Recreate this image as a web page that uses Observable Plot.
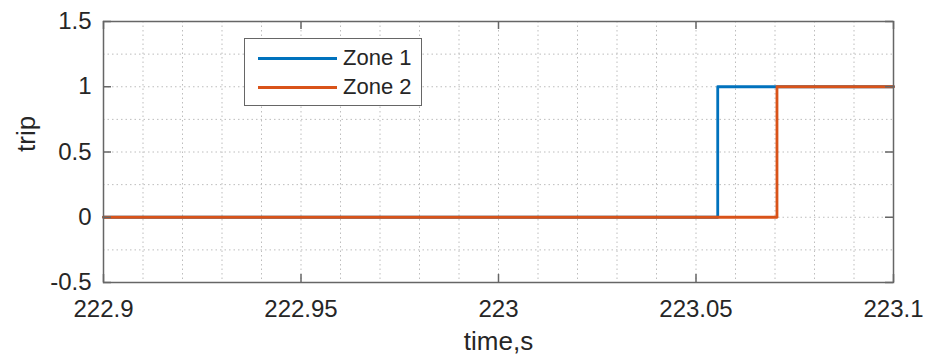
<!DOCTYPE html>
<html><head><meta charset="utf-8">
<script src="https://cdn.jsdelivr.net/npm/d3@7"></script>
<script src="https://cdn.jsdelivr.net/npm/@observablehq/plot@0.6"></script>
<style>
body{margin:0;background:#fff;}
#wrap{position:relative;width:925px;height:355px;font-family:"Liberation Sans",Arial,sans-serif;}
#legend{position:absolute;left:244px;top:38px;width:176px;height:66px;border:1.5px solid #666;background:#fff;}
.item{position:absolute;left:13px;height:26px;display:flex;align-items:center;font-size:22px;color:#262626;}
.swatch{width:79px;height:0;border-top:3px solid;margin-right:6px;}
</style>
</head><body><div id="wrap"></div>
<script>
const zone1Time = [222.9, 223.0555, 223.1];
const zone1Trip = [0, 1, 1];
const zone2Time = [222.9, 223.0705, 223.1];
const zone2Trip = [0, 1, 1];
const xTicks = [222.9, 222.95, 223, 223.05, 223.1];
const yTicks = [-0.5, 0, 0.5, 1, 1.5];
const seriesNames = ["Zone 1", "Zone 2"];
const seriesColors = ["#0072BD", "#D95319"];
const xLabel = "time,s";
const yLabel = "trip";

const W = 925, H = 355, mL = 103, mR = 32, mT = 21, mB = 73;
const iw = W - mL - mR, ih = H - mT - mB, tk = 8;
const xMinor = d3.range(0, 21).map(i => +(222.9 + i * 0.01).toFixed(2));
const yMinor = d3.range(0, 9).map(i => -0.5 + i * 0.25);

const z1 = zone1Time.map((t, i) => ({t, v: zone1Trip[i]}));
const z2 = zone2Time.map((t, i) => ({t, v: zone2Trip[i]}));

const chart = Plot.plot({
  width: W, height: H,
  marginLeft: mL, marginRight: mR, marginTop: mT, marginBottom: mB,
  x: {domain: [222.9, 223.1]},
  y: {domain: [-0.5, 1.5]},
  style: {fontFamily: '"Liberation Sans", Arial, sans-serif', fontSize: "24px", color: "#262626", background: "#fff"},
  marks: [
    Plot.ruleX(xMinor, {x: d => d, stroke: "#bdbdbd", strokeDasharray: "1.5,3", strokeWidth: 1}),
    Plot.ruleY(yMinor, {y: d => d, stroke: "#bdbdbd", strokeDasharray: "1.5,3", strokeWidth: 1}),
    Plot.line(z1, {x: "t", y: "v", stroke: seriesColors[0], strokeWidth: 2.8, curve: "step-after"}),
    Plot.line(z2, {x: "t", y: "v", stroke: seriesColors[1], strokeWidth: 2.8, curve: "step-after"}),
    Plot.tickX(xTicks, {x: d => d, insetTop: ih - tk, stroke: "#666", strokeWidth: 1.5}),
    Plot.tickX(xTicks, {x: d => d, insetBottom: ih - tk, stroke: "#666", strokeWidth: 1.5}),
    Plot.tickY(yTicks, {y: d => d, insetRight: iw - tk, stroke: "#666", strokeWidth: 1.5}),
    Plot.tickY(yTicks, {y: d => d, insetLeft: iw - tk, stroke: "#666", strokeWidth: 1.5}),
    Plot.frame({stroke: "#666", strokeWidth: 1.5}),
    Plot.axisX(xTicks, {tickSize: 0, tickPadding: 17, tickFormat: d => String(d), label: null, fill: "#262626"}),
    Plot.axisY(yTicks, {tickSize: 0, tickPadding: 12, tickFormat: d => String(d), label: null, fill: "#262626"}),
    Plot.text([xLabel], {text: d => d, frameAnchor: "bottom", dy: 49, lineAnchor: "top", fontSize: 26, fill: "#262626"}),
    Plot.text([yLabel], {text: d => d, frameAnchor: "left", dx: -77, rotate: -90, fontSize: 26, fill: "#262626"})
  ]
});
const wrap = document.getElementById("wrap");
wrap.appendChild(chart);
const legend = document.createElement("div");
legend.id = "legend";
seriesNames.forEach((name, i) => {
  const item = document.createElement("div");
  item.className = "item";
  item.style.top = (6 + i * 29) + "px";
  const sw = document.createElement("span");
  sw.className = "swatch";
  sw.style.borderTopColor = seriesColors[i];
  const lab = document.createElement("span");
  lab.textContent = name;
  item.appendChild(sw); item.appendChild(lab);
  legend.appendChild(item);
});
wrap.appendChild(legend);
</script>
</body></html>
